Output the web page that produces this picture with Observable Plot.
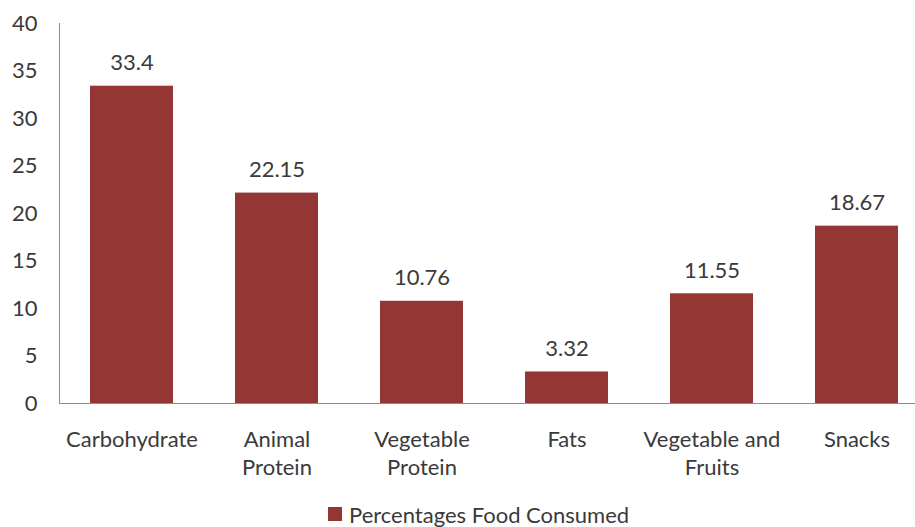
<!DOCTYPE html>
<html>
<head>
<meta charset="utf-8">
<script src="https://cdn.jsdelivr.net/npm/d3@7"></script>
<script src="https://cdn.jsdelivr.net/npm/@observablehq/plot@0.6"></script>
<style>
  html, body { margin: 0; padding: 0; background: #fff; }
  #wrap { position: relative; width: 915px; height: 527px; font-family: Lato, sans-serif; }
  #legend { position: absolute; left: 328px; top: 500px; height: 28px; display: flex; align-items: center; font-size: 22px; color: #3a3a3a; white-space: nowrap; }
  #legend .sw { width: 14px; height: 14px; background: #943634; margin-right: 7px; }
</style>
</head>
<body>
<div id="wrap">
  <div id="chart"></div>
  <div id="legend"><span class="sw"></span><span>Percentages Food Consumed</span></div>
</div>
<script>
const categories = ["Carbohydrate", "Animal Protein", "Vegetable Protein", "Fats", "Vegetable and Fruits", "Snacks"];
const tickLabels = ["Carbohydrate", "Animal\nProtein", "Vegetable\nProtein", "Fats", "Vegetable and\nFruits", "Snacks"];
const values = [33.4, 22.15, 10.76, 3.32, 11.55, 18.67];
const valueLabels = ["33.4", "22.15", "10.76", "3.32", "11.55", "18.67"];
const yTicks = [0, 5, 10, 15, 20, 25, 30, 35, 40];

const data = categories.map((c, i) => ({category: c, value: values[i], label: valueLabels[i]}));
const labelOf = new Map(categories.map((c, i) => [c, tickLabels[i]]));

const color = "#943634";
const textColor = "#3a3a3a";

const chart = Plot.plot({
  width: 915,
  height: 490,
  marginTop: 23,
  marginBottom: 87,
  marginLeft: 59,
  marginRight: 0,
  style: {fontFamily: "Lato, sans-serif", fontSize: "22px", color: textColor, background: "#fff"},
  x: {domain: categories, range: [59, 929], paddingInner: 0.43, paddingOuter: 0.215, align: 0.5},
  y: {domain: [0, 40], ticks: yTicks},
  marks: [
    Plot.barY(data, {x: "category", y: "value", fill: color}),
    Plot.text(data, {x: "category", y: "value", text: "label", lineAnchor: "bottom", dy: -16, fill: textColor, fontSize: 22}),
    Plot.frame({anchor: "left", stroke: "#8c8c8c"}),
    Plot.ruleY([0], {stroke: "#8c8c8c"}),
    Plot.axisY({ticks: yTicks, tickSize: 0, tickPadding: 22, label: null, fill: textColor, fontSize: 22}),
    Plot.axisX({tickSize: 0, tickPadding: 24, label: null, tickFormat: d => labelOf.get(d), lineHeight: 1.27, fill: textColor, fontSize: 22})
  ]
});
document.getElementById("chart").appendChild(chart);
</script>
</body>
</html>
